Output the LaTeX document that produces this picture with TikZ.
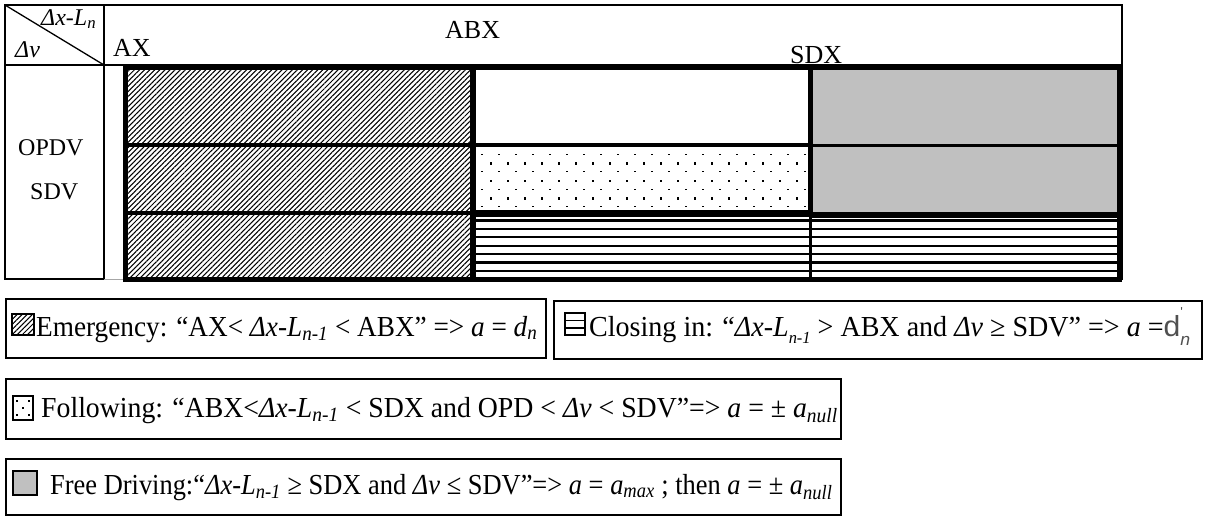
\documentclass[tikz,border=0pt]{standalone}
\usepackage{fontspec}
\setmainfont{Liberation Serif}
\newfontfamily\legendfont[FakeStretch=0.93]{Liberation Serif}
\newfontfamily\dsans{Liberation Sans}
\usetikzlibrary{patterns.meta}
\definecolor{cellgrey}{RGB}{192,192,192}
\definecolor{dgrey}{RGB}{80,80,80}

\tikzset{
  thinrule/.style={line width=2pt},
  thickrule/.style={line width=5pt},
  hatchfill/.style={pattern={Lines[angle=45,distance=3.6pt,line width=1.05pt]}},
  hdr/.style={font=\fontsize{26}{28}\selectfont, inner sep=0pt, anchor=base west},
  rowlbl/.style={font=\fontsize{24}{26}\selectfont, inner sep=0pt, anchor=base west},
  corner/.style={font=\fontsize{24}{26}\selectfont\itshape, inner sep=0pt, anchor=base west},
  legendbox/.style={draw, line width=2pt},
  legendtxt/.style={font=\fontsize{29}{32}\legendfont, inner sep=0pt, anchor=base west, transform shape},
  stripe/.style={line width=2.2pt}
}

\newcommand{\sub}[1]{\textsubscript{#1}}
\newcommand{\lowsub}[1]{\raisebox{-0.6ex}{\fontsize{17}{18}\selectfont #1}}

\begin{document}
\begin{tikzpicture}[x=1pt,y=-1pt]
\useasboundingbox (0,0) rectangle (1206,525);

% ---------- cell fills ----------
\fill[hatchfill] (125,68) rectangle (473,279);
\fill[cellgrey] (810.5,67) rectangle (1119,215);

% dotted "following" cell
\foreach \yy in {154.3,171.7,189.3,206.7}
  \foreach \xx in {482,499,...,805}
    \fill (\xx-0.9,\yy-0.7) rectangle ++(1.8,1.4);
\foreach \yy in {163.3,180.7,198.3}
  \foreach \xx in {491,508,...,805}
    \fill (\xx-1.2,\yy-1.2) rectangle ++(2.4,2.4);

% striped "closing in" cells
\foreach \yy in {220.5,229,237.3,245.7,254,262.5,271}
  \draw[stripe] (475,\yy) -- (1117,\yy);

% ---------- header frame ----------
\draw[thinrule] (5,5) rectangle (1122,65);
\draw[thinrule] (1122,65) -- (1122,280);
\draw[thinrule] (5,65) rectangle (104,279);
\draw[thinrule] (104,5) -- (104,65);
\draw[line width=1.3pt] (5,5) -- (104,65);
\draw[line width=1pt, black!35] (104,279) -- (125,279);

% ---------- grid lines ----------
\draw[line width=3.3pt] (125,145) -- (473,145);
\draw[line width=3.3pt] (125,213) -- (473,213);
\draw[line width=4pt] (473,144.7) -- (810.5,144.7);
\draw[line width=7pt] (473,213.7) -- (810.5,213.7);
\draw[line width=3pt] (810.5,145.7) -- (1119,145.7);
\draw[line width=6pt] (810.5,215) -- (1119,215);
\draw[line width=6pt] (473,68) -- (473,279);
\draw[line width=5pt] (810.5,67) -- (810.5,215);
\draw[line width=2.6pt] (810.5,215) -- (810.5,279);
\draw[thickrule] (125,67) rectangle (1119,279);

% ---------- header labels ----------
\node[corner] (dxl) at (41,25) {Δx-L\sub{n}};
\node[corner] (dv) at (15,57) {Δv};
\node[hdr] (ax) at (113,56) {AX};
\node[hdr] (abx) at (445,38) {ABX};
\node[hdr] (sdx) at (790,63) {SDX};
\node[rowlbl] (opdv) at (18,155) {OPDV};
\node[rowlbl] (sdv) at (30,199) {SDV};

% ---------- legend ----------
% emergency
\node[legendbox, minimum width=540pt, minimum height=59pt, anchor=north west] (lg1) at (5,298) {};
\draw[line width=2pt, hatchfill] (12,314) rectangle (34,335);
\node[legendtxt, xscale=1.01] (t1) at (36,336) {Emergency: “AX< \textit{Δx-L\sub{n-1}} < ABX” => \textit{a} = \textit{d\sub{n}}};

% closing in
\node[legendbox, minimum width=648pt, minimum height=58pt, anchor=north west] (lg2) at (553,300) {};
\draw[line width=2.4pt] (565,313) rectangle (585,335);
\draw[line width=1.6pt] (565,320.3) -- (585,320.3);
\draw[line width=1.6pt] (565,327.7) -- (585,327.7);
\node[legendtxt, xscale=1.04] (t2) at (589,336) {Closing in: “\textit{Δx-L}\lowsub{\textit{n-1}} > ABX and \textit{Δv} ≥ SDV” => \textit{a} =\textcolor{dgrey}{\fontsize{29}{30}\dsans d\rlap{\raisebox{1.3ex}{\fontsize{13}{13}\selectfont\textquotesingle}}\lowsub{\textit{n}}}};

% following
\node[legendbox, minimum width=835pt, minimum height=60pt, anchor=north west] (lg3) at (5,378) {};
\draw[line width=1.4pt] (13,396) rectangle (33,420);
\foreach \px/\py in {17/401,29/401,23/408,17/415,29/415}
  \fill (\px-0.8,\py-0.8) rectangle ++(1.6,1.6);
\node[legendtxt, xscale=1.03] (t3) at (41,417) {Following: “ABX<\textit{Δx-L\sub{n-1}} < SDX and OPD < \textit{Δv} < SDV”=> \textit{a} = ± \textit{a\sub{null}}};

% free driving
\node[legendbox, minimum width=835pt, minimum height=56pt, anchor=north west] (lg4) at (5,458) {};
\draw[line width=2pt, fill=cellgrey] (13,471) rectangle (37,495);
\node[legendtxt, xscale=0.98] (t4) at (50,494) {Free Driving:“\textit{Δx-L\sub{n-1}} ≥ SDX and \textit{Δv} ≤ SDV”=> \textit{a} = \textit{a\sub{max}} ; then \textit{a} = ± \textit{a\sub{null}}};

\end{tikzpicture}
\end{document}
